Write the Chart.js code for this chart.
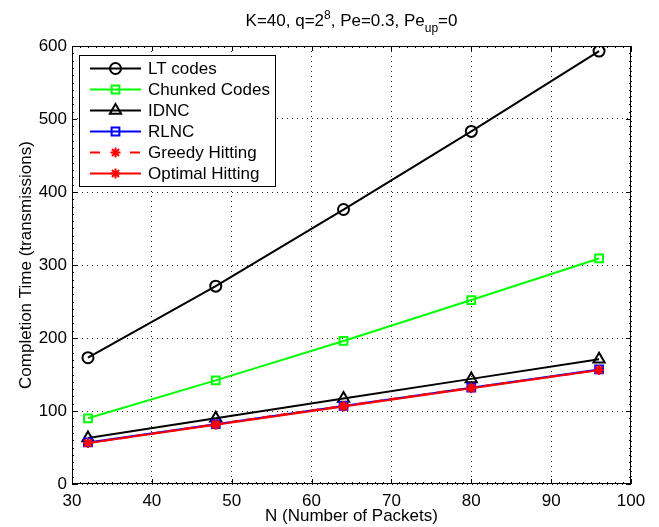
<!DOCTYPE html>
<html>
<head>
<meta charset="utf-8">
<script src="https://cdn.jsdelivr.net/npm/chart.js@4/dist/chart.umd.min.js"></script>
<style>
html, body { margin: 0; padding: 0; background: #fff; }
#wrap { width: 659px; height: 527px; }
</style>
</head>
<body>
<div id="wrap"><canvas id="chart" width="659" height="527"></canvas></div>
<script>
// values
var packets = [32, 48, 64, 80, 96];
var ltCodes = [173, 271, 376, 483, 593];
var chunkedCodes = [90, 142, 196, 252, 309];
var idnc = [63, 90, 117, 144, 171];
var rlnc = [57, 82, 107, 132, 157];
var greedyHitting = [56, 82, 107, 132, 156];
var optimalHitting = [56, 81, 106, 131, 156];

var xTicks = [30, 40, 50, 60, 70, 80, 90, 100];
var yTicks = [0, 100, 200, 300, 400, 500, 600];

var FONT = "'Liberation Sans', Arial, Helvetica, sans-serif";
var FS = 17;

function toPoints(vals) {
    return packets.map(function (n, i) { return { x: n, y: vals[i] }; });
}

function makeSet(label, vals, color, style, radius, dash, order) {
    return {
        label: label,
        data: toPoints(vals),
        borderColor: color,
        backgroundColor: "rgba(0,0,0,0)",
        borderWidth: 2,
        borderDash: dash || [],
        pointStyle: style,
        pointRadius: radius,
        pointBorderColor: color,
        pointBackgroundColor: "rgba(0,0,0,0)",
        pointBorderWidth: 2,
        tension: 0,
        order: order
    };
}

var datasets = [
    makeSet("LT codes", ltCodes, "#000000", "circle", 5.5, null, 6),
    makeSet("Chunked Codes", chunkedCodes, "#00ff00", "rect", 5.5, null, 5),
    makeSet("IDNC", idnc, "#000000", "triangle", 6.5, null, 4),
    makeSet("RLNC", rlnc, "#0000ff", "rect", 5.5, null, 3),
    makeSet("Greedy Hitting", greedyHitting, "#ff0000", "star", 5, [10, 6], 2),
    makeSet("Optimal Hitting", optimalHitting, "#ff0000", "star", 5, null, 1)
];

// title, box, inward ticks and the in-plot legend (MATLAB look)
var matlabBits = {
    id: "matlabBits",
    afterDraw: function (chart) {
        var ctx = chart.ctx;
        var a = chart.chartArea;
        var xs = chart.scales.x, ys = chart.scales.y;
        ctx.save();

        // box
        ctx.strokeStyle = "#000";
        ctx.lineWidth = 1;
        ctx.setLineDash([]);
        ctx.strokeRect(a.left + 0.5, a.top + 0.5, a.right - a.left - 1, a.bottom - a.top - 1);

        // minor + major ticks pointing inward
        ctx.beginPath();
        for (var v = 30; v <= 100; v += 1) {
            var px = Math.round(xs.getPixelForValue(v)) + 0.5;
            var len = v % 10 === 0 ? 5 : 2;
            ctx.moveTo(px, a.bottom); ctx.lineTo(px, a.bottom - len);
            ctx.moveTo(px, a.top); ctx.lineTo(px, a.top + len);
        }
        for (var w = 0; w <= 600; w += 10) {
            var py = Math.round(ys.getPixelForValue(w)) + 0.5;
            var l2 = w % 100 === 0 ? 5 : 2;
            ctx.moveTo(a.left, py); ctx.lineTo(a.left + l2, py);
            ctx.moveTo(a.right, py); ctx.lineTo(a.right - l2, py);
        }
        ctx.stroke();

        // title with superscript / subscript
        var parts = [
            { t: "K=40, q=2", s: FS, dy: 0 },
            { t: "8", s: 12, dy: -7 },
            { t: ", Pe=0.3, Pe", s: FS, dy: 0 },
            { t: "up", s: 12, dy: 6 },
            { t: "=0", s: FS, dy: 0 }
        ];
        var total = 0;
        parts.forEach(function (p) {
            ctx.font = p.s + "px " + FONT;
            p.w = ctx.measureText(p.t).width;
            total += p.w;
        });
        var tx = (a.left + a.right) / 2 - total / 2;
        ctx.fillStyle = "#000";
        ctx.textBaseline = "alphabetic";
        ctx.textAlign = "left";
        parts.forEach(function (p) {
            ctx.font = p.s + "px " + FONT;
            ctx.fillText(p.t, tx, 26 + p.dy);
            tx += p.w;
        });

        // legend
        var lx = 79.5, ly = 55.5, lw = 196, lh = 131;
        ctx.fillStyle = "#fff";
        ctx.fillRect(lx, ly, lw, lh);
        ctx.strokeStyle = "#000";
        ctx.lineWidth = 1;
        ctx.strokeRect(lx, ly, lw, lh);
        ctx.font = FS + "px " + FONT;
        ctx.textBaseline = "middle";
        datasets.forEach(function (ds, i) {
            var y = Math.round(68 + i * 20.9) + 0.5;
            ctx.strokeStyle = ds.borderColor;
            ctx.lineWidth = 2;
            ctx.setLineDash(ds.borderDash.length ? [10, 30] : []);
            ctx.beginPath();
            ctx.moveTo(90, y); ctx.lineTo(141, y);
            ctx.stroke();
            ctx.setLineDash([]);
            ctx.fillStyle = "rgba(0,0,0,0)";
            Chart.helpers.drawPoint(ctx, {
                pointStyle: ds.pointStyle,
                radius: ds.pointRadius,
                rotation: 0,
                borderWidth: 2
            }, 115.5, y);
            ctx.fillStyle = "#000";
            ctx.fillText(ds.label, 148, y + 1);
        });
        ctx.restore();
    }
};

new Chart(document.getElementById("chart"), {
    type: "line",
    data: { datasets: datasets },
    plugins: [matlabBits],
    options: {
        responsive: false,
        animation: false,
        devicePixelRatio: 1,
        layout: { padding: { left: 0, right: 28, top: 46, bottom: 0 } },
        plugins: {
            legend: { display: false },
            tooltip: { enabled: false },
            title: { display: false }
        },
        scales: {
            x: {
                type: "linear",
                min: 30,
                max: 100,
                afterBuildTicks: function (s) { s.ticks = xTicks.map(function (v) { return { value: v }; }); },
                afterFit: function (s) { s.height = 43; },
                ticks: { color: "#000", padding: 7, font: { family: FONT, size: FS } },
                grid: { color: "#222", lineWidth: 1, drawTicks: false },
                border: { display: false, dash: [1, 4] },
                title: {
                    display: true,
                    text: "N (Number of Packets)",
                    color: "#000",
                    font: { family: FONT, size: FS },
                    padding: { top: 0, bottom: 0 }
                }
            },
            y: {
                min: 0,
                max: 600,
                afterBuildTicks: function (s) { s.ticks = yTicks.map(function (v) { return { value: v }; }); },
                afterFit: function (s) { s.width = 72; },
                ticks: { color: "#000", padding: 5, font: { family: FONT, size: FS } },
                grid: { color: "#222", lineWidth: 1, drawTicks: false },
                border: { display: false, dash: [1, 4] },
                title: {
                    display: true,
                    text: "Completion Time (transmissions)",
                    color: "#000",
                    font: { family: FONT, size: FS },
                    padding: { top: 16, bottom: 0 }
                }
            }
        }
    }
});
</script>
</body>
</html>
